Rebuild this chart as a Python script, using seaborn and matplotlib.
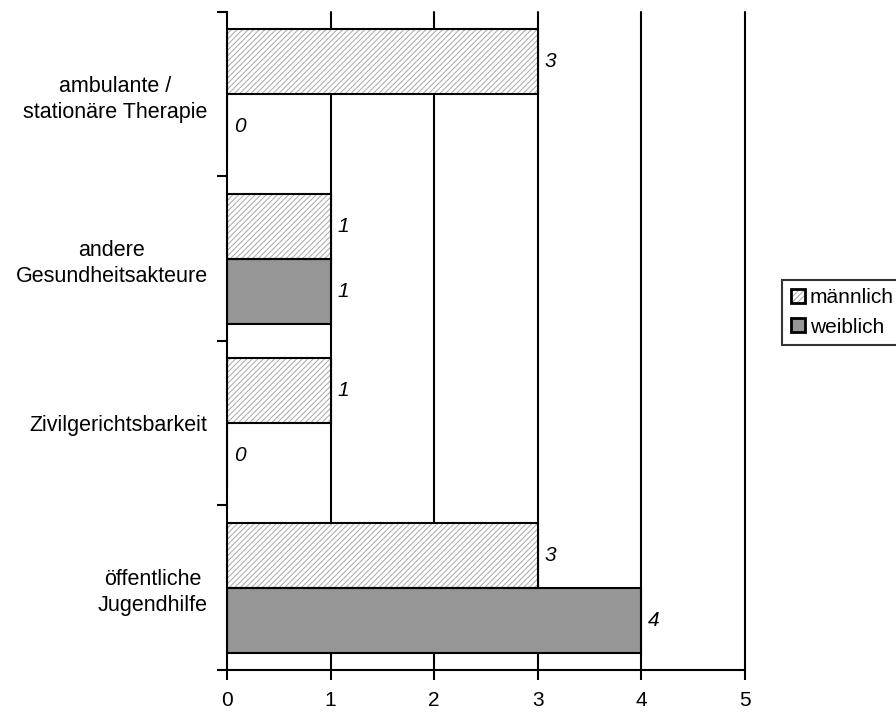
import matplotlib
matplotlib.use("Agg")
import matplotlib.pyplot as plt
from matplotlib.colors import to_rgba
from matplotlib.patches import Patch, Rectangle
from matplotlib.ticker import FixedLocator
import numpy as np
import pandas as pd
import seaborn as sns

categories = [
    "ambulante /\nstationäre Therapie",
    "andere\nGesundheitsakteure",
    "Zivilgerichtsbarkeit",
    "öffentliche\nJugendhilfe",
]
maennlich = [3, 1, 1, 3]
weiblich = [0, 1, 0, 4]
groups = ["männlich", "weiblich"]
x_ticks = [0, 1, 2, 3, 4, 5]

df = pd.DataFrame({
    "Bereich": categories * 2,
    "Geschlecht": [groups[0]] * len(categories) + [groups[1]] * len(categories),
    "Anzahl": maennlich + weiblich,
})

sns.set_theme(style="white")
plt.rcParams["font.family"] = ["Liberation Sans", "DejaVu Sans"]
plt.rcParams["hatch.linewidth"] = 0.7
plt.rcParams["text.color"] = "black"
plt.rcParams["xtick.labelcolor"] = "black"
plt.rcParams["ytick.labelcolor"] = "black"

FS = 15
fig = plt.figure(figsize=(8.96, 7.13), dpi=100)
ax = fig.add_axes([0.2533, 0.0603, 0.5782, 0.9229])

lw = 1.5
sns.barplot(data=df, y="Bereich", x="Anzahl", hue="Geschlecht",
            hue_order=groups, order=categories, orient="h",
            width=0.79, palette=["white", "#969696"], saturation=1,
            edgecolor="black", linewidth=lw, legend=False, ax=ax, zorder=3)

# hatch the first series in light grey, outline it in black on top
hatch_grey = "#a8a8a8"
for bar in ax.containers[0]:
    bar.set_facecolor("white")
    bar.set_edgecolor(hatch_grey)
    bar.set_hatch("//////")
    bar.set_linewidth(0)
    ax.add_patch(Rectangle(bar.get_xy(), bar.get_width(), bar.get_height(),
                           fill=False, edgecolor="black", linewidth=lw,
                           zorder=4))

for cont in ax.containers:
    ax.bar_label(cont, fmt="%d", padding=5, fontsize=FS, fontstyle="italic",
                 color="black")

ax.set_xlim(0, 5)
ax.set_ylim(len(categories) - 0.5, -0.5)
ax.set_xticks(x_ticks)
ax.set_xticklabels([str(v) for v in x_ticks], fontsize=FS)
ax.yaxis.set_minor_locator(FixedLocator(np.arange(-0.5, len(categories), 1.0)))
ax.tick_params(axis="y", which="major", length=0, pad=14, labelsize=15.5)
ax.tick_params(axis="y", which="minor", left=True, length=7, width=lw,
               color="black", direction="out")
ax.tick_params(axis="x", which="major", bottom=True, length=7, width=lw,
               color="black", direction="out", pad=8)
for lab in ax.get_yticklabels():
    lab.set_multialignment("center")
    lab.set_linespacing(1.3)
ax.set_xlabel("")
ax.set_ylabel("")

# vertical gridlines at every unit
for v in x_ticks[1:]:
    ax.axvline(v, color="black", linewidth=lw, zorder=2, clip_on=False)

for side in ["top", "right"]:
    ax.spines[side].set_visible(False)
for side in ["left", "bottom"]:
    ax.spines[side].set_color("black")
    ax.spines[side].set_linewidth(lw)
    ax.spines[side].set_zorder(5)

handles = [
    Patch(facecolor="white", edgecolor="black", hatch="//////", linewidth=2),
    Patch(facecolor="#969696", edgecolor="black", linewidth=2),
]
leg = fig.legend(handles, groups, loc="center left",
                 bbox_to_anchor=(0.8728, 0.5617), fontsize=FS, frameon=True,
                 fancybox=False, edgecolor="black", handlelength=0.67,
                 handleheight=0.67, handletextpad=0.25, borderpad=0.42,
                 labelspacing=0.5, borderaxespad=0)
leg.get_frame().set_linewidth(1.5)
# light grey hatch inside the black-edged legend key
leg.legend_handles[0]._hatch_color = to_rgba(hatch_grey)

fig.savefig("out.png", dpi=100)
